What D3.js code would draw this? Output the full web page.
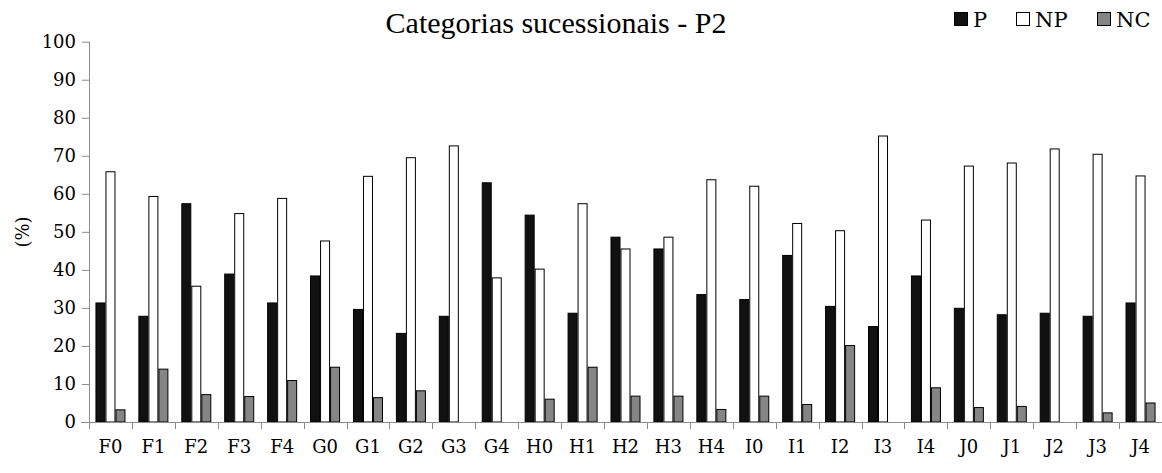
<!DOCTYPE html>
<html><head><meta charset="utf-8">
<script src="https://cdn.jsdelivr.net/npm/d3@7"></script>
<style>body{margin:0;background:#fff}svg{display:block}</style>
</head><body><svg id="c" width="1162" height="473"></svg>
<script>
const categories = ["F0","F1","F2","F3","F4","G0","G1","G2","G3","G4","H0","H1","H2","H3","H4","I0","I1","I2","I3","I4","J0","J1","J2","J3","J4"];
const seriesNames = ["P","NP","NC"];
const valuesP  = [31.3,27.8,57.4,38.9,31.3,38.4,29.6,23.3,27.8,62.9,54.4,28.6,48.6,45.5,33.5,32.2,43.8,30.4,25.1,38.4,29.9,28.2,28.6,27.8,31.3];
const valuesNP = [65.8,59.3,35.7,54.8,58.8,47.6,64.6,69.5,72.6,37.9,40.2,57.4,45.5,48.6,63.7,62.0,52.2,50.3,75.2,53.1,67.3,68.1,71.8,70.4,64.7];
const valuesNC = [3.2,13.9,7.2,6.7,10.9,14.4,6.4,8.2,0,0,6.0,14.4,6.8,6.8,3.3,6.8,4.6,20.1,0,9.0,3.8,4.1,0,2.4,5.0];
const yTicks = [0,10,20,30,40,50,60,70,80,90,100];
const colors = {P:"#111111",NP:"#ffffff",NC:"#858585"};

const series = {P:valuesP, NP:valuesNP, NC:valuesNC};
const svg = d3.select("#c");
const wideSerif = "DejaVu Serif";
const timesSerif = "Liberation Serif";
const mLeft = 89, mRight = 1162, mTop = 41.7, mBottom = 422;
const x0 = d3.scaleBand().domain(categories).range([mLeft,mRight]).padding(0);
const x1 = d3.scaleBand().domain(seriesNames).range([0,x0.bandwidth()]).paddingInner(0).paddingOuter(0.645);
const y = d3.scaleLinear().domain([0,100]).range([mBottom,mTop]);

const g = svg.append("g");
categories.forEach((c,i)=>{
  seriesNames.forEach(s=>{
    const v = series[s][i];
    if(v<=0) return;
    g.append("rect")
      .attr("x", x0(c)+x1(s)+0.5)
      .attr("y", y(v))
      .attr("width", x1.bandwidth()-1)
      .attr("height", y(0)-y(v))
      .attr("fill", colors[s]).attr("stroke","#000").attr("stroke-width",1);
  });
});

// y axis
const ya = svg.append("g").attr("transform",`translate(${mLeft},0)`)
  .call(d3.axisLeft(y).tickValues(yTicks).tickSize(7).tickPadding(6));
ya.attr("font-family",wideSerif);
ya.selectAll("path,line").attr("stroke","#8c8c8c");
ya.selectAll("text").attr("font-family",wideSerif).attr("font-size","18px").attr("fill","#000");
ya.select(".domain").attr("d",`M0.5,${mTop}V${mBottom}`);

// x axis with ticks at band boundaries
const xa = svg.append("g").attr("transform",`translate(0,${mBottom})`);
xa.append("line").attr("x1",mLeft-8).attr("x2",mRight).attr("y1",0.5).attr("y2",0.5).attr("stroke","#8c8c8c");
const bounds = categories.map(c=>x0(c));
xa.selectAll("line.t").data(bounds).enter().append("line").attr("class","t")
  .attr("x1",d=>Math.round(d)+0.5).attr("x2",d=>Math.round(d)+0.5).attr("y1",0).attr("y2",7).attr("stroke","#8c8c8c");
xa.selectAll("text").data(categories).enter().append("text")
  .attr("x",d=>x0(d)+x0.bandwidth()/2).attr("y",31)
  .attr("text-anchor","middle").attr("font-family",wideSerif).attr("font-size","18px").text(d=>d);

// y label
svg.append("text").attr("transform","translate(29,232) rotate(-90)")
  .attr("text-anchor","middle").attr("font-family",wideSerif).attr("font-size","18px").text("(%)");

// title
svg.append("text").attr("x",556).attr("y",33).attr("text-anchor","middle")
  .attr("font-family",timesSerif).attr("font-size",30).text("Categorias sucessionais - P2");

// legend
const legX = [954,1016,1097];
seriesNames.forEach((s,i)=>{
  svg.append("rect").attr("x",legX[i]+0.5).attr("y",12.5).attr("width",13).attr("height",13)
    .attr("fill",colors[s]).attr("stroke","#000");
  svg.append("text").attr("x",legX[i]+19).attr("y",27).attr("font-family",wideSerif).attr("font-size","21px").text(s);
});
</script></body></html>
